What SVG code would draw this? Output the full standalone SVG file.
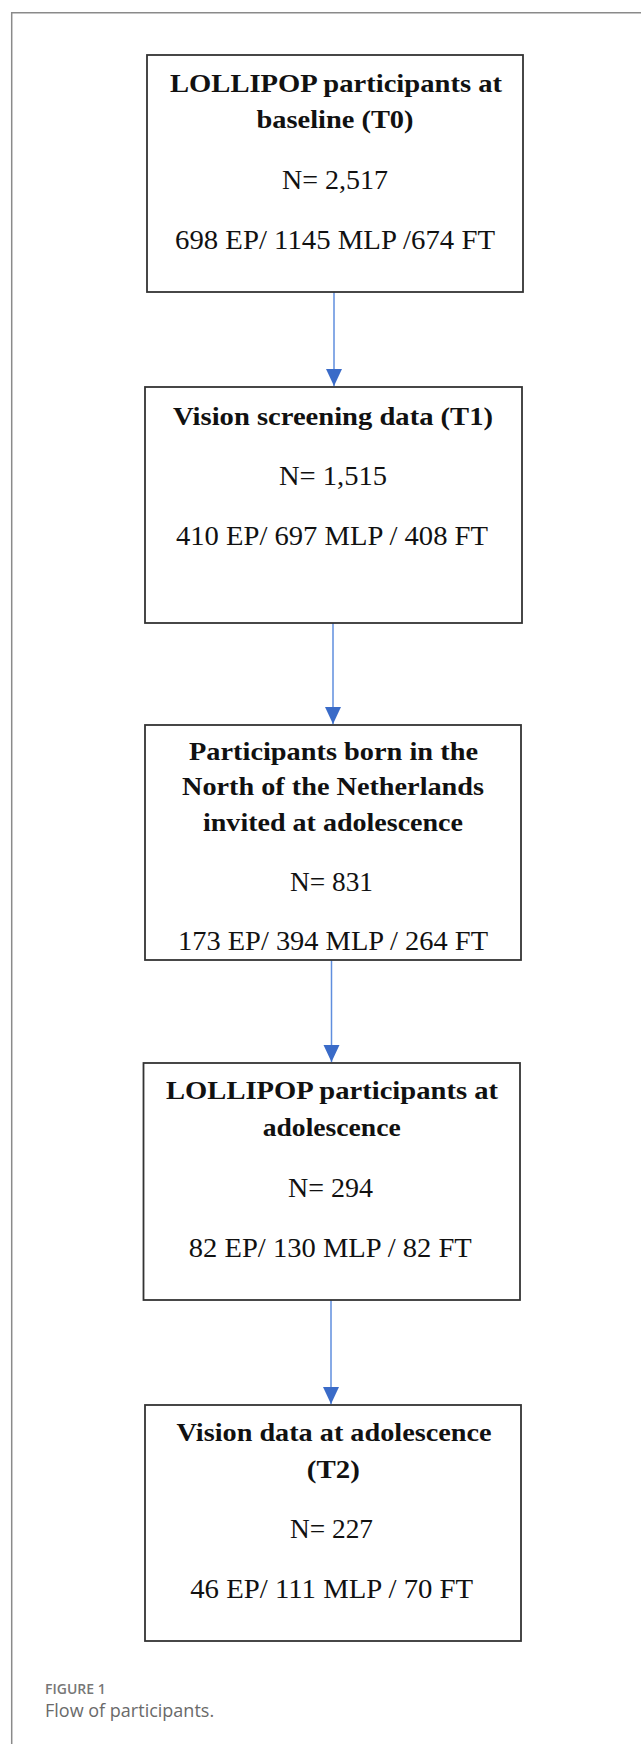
<svg xmlns="http://www.w3.org/2000/svg" width="641" height="1744" viewBox="0 0 641 1744">
<style>
.frame{stroke:#8a8a8a;stroke-width:1.5;fill:none}
.box{fill:#fff;stroke:#333;stroke-width:1.8}
.t{font-family:"Liberation Serif","Times New Roman",serif;font-size:27px;fill:#111;text-anchor:middle}
.b{font-weight:bold;font-size:26px}
.conn{stroke:#5f8ede;stroke-width:1.5;fill:none}
.cap1{font-family:"Open Sans","Noto Sans",sans-serif;font-size:14px;font-weight:600;fill:#777}
.cap2{font-family:"Open Sans","Noto Sans",sans-serif;font-size:18px;fill:#6a6a6a}
</style>
<defs>
<marker id="ah" markerUnits="userSpaceOnUse" markerWidth="17" markerHeight="17" refX="17" refY="8" orient="auto">
<path d="M0,0 L17,8 L0,16 z" fill="#3a6bc8"/>
</marker>
</defs>
<rect width="641" height="1744" fill="#fff"/>
<path class="frame" d="M11.7,1744 V12.7 H641"/>

<g id="connectors">
<line class="conn" x1="334" y1="292" x2="334" y2="386" marker-end="url(#ah)"/>
<line class="conn" x1="333" y1="623" x2="333" y2="724" marker-end="url(#ah)"/>
<line class="conn" x1="331.5" y1="960" x2="331.5" y2="1062" marker-end="url(#ah)"/>
<line class="conn" x1="331" y1="1300" x2="331" y2="1404" marker-end="url(#ah)"/>
</g>

<g id="node1">
<rect class="box" x="147" y="55" width="376" height="237"/>
<text class="t b" x="336" y="91.7" textLength="332" lengthAdjust="spacingAndGlyphs">LOLLIPOP participants  at</text>
<text class="t b" x="335" y="128" textLength="157" lengthAdjust="spacingAndGlyphs">baseline  (T0)</text>
<text class="t" x="335" y="189.3" textLength="106" lengthAdjust="spacingAndGlyphs">N= 2,517</text>
<text class="t" x="335" y="249.3" textLength="320" lengthAdjust="spacingAndGlyphs">698 EP/ 1145 MLP /674 FT</text>
</g>

<g id="node2">
<rect class="box" x="145" y="387" width="377" height="236"/>
<text class="t b" x="333" y="425" textLength="320" lengthAdjust="spacingAndGlyphs">Vision  screening  data (T1)</text>
<text class="t" x="333" y="485" textLength="108" lengthAdjust="spacingAndGlyphs">N= 1,515</text>
<text class="t" x="332" y="545" textLength="312" lengthAdjust="spacingAndGlyphs">410 EP/ 697 MLP / 408 FT</text>
</g>

<g id="node3">
<rect class="box" x="145" y="725" width="376" height="235"/>
<text class="t b" x="333.5" y="760" textLength="289" lengthAdjust="spacingAndGlyphs">Participants born in the</text>
<text class="t b" x="333" y="795" textLength="302" lengthAdjust="spacingAndGlyphs">North of the Netherlands</text>
<text class="t b" x="333" y="831" textLength="260" lengthAdjust="spacingAndGlyphs">invited  at adolescence</text>
<text class="t" x="331.5" y="890.7" textLength="83" lengthAdjust="spacingAndGlyphs">N= 831</text>
<text class="t" x="333" y="950" textLength="310" lengthAdjust="spacingAndGlyphs">173 EP/ 394 MLP / 264 FT</text>
</g>

<g id="node4">
<rect class="box" x="143.5" y="1063" width="376.5" height="237"/>
<text class="t b" x="332" y="1099.3" textLength="332" lengthAdjust="spacingAndGlyphs">LOLLIPOP participants  at</text>
<text class="t b" x="331.7" y="1136" textLength="138" lengthAdjust="spacingAndGlyphs">adolescence</text>
<text class="t" x="330.5" y="1196.7" textLength="85" lengthAdjust="spacingAndGlyphs">N= 294</text>
<text class="t" x="330.3" y="1256.7" textLength="283" lengthAdjust="spacingAndGlyphs">82 EP/ 130 MLP / 82 FT</text>
</g>

<g id="node5">
<rect class="box" x="145" y="1405" width="376" height="236"/>
<text class="t b" x="334" y="1441" textLength="315" lengthAdjust="spacingAndGlyphs">Vision data at adolescence</text>
<text class="t b" x="333.3" y="1478" textLength="53" lengthAdjust="spacingAndGlyphs">(T2)</text>
<text class="t" x="331.5" y="1538.3" textLength="83" lengthAdjust="spacingAndGlyphs">N= 227</text>
<text class="t" x="331.7" y="1598.3" textLength="283" lengthAdjust="spacingAndGlyphs">46 EP/ 111 MLP / 70 FT</text>
</g>

<g id="caption">
<text class="cap1" x="45" y="1694">FIGURE 1</text>
<text class="cap2" x="45" y="1717">Flow of participants.</text>
</g>
</svg>
